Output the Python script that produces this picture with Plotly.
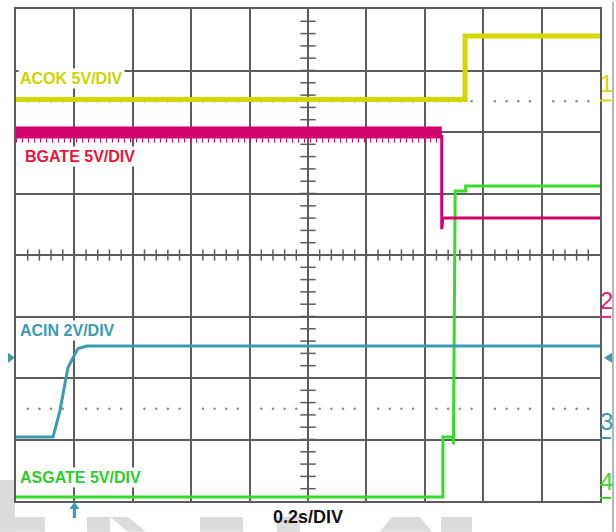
import numpy as np
import plotly.graph_objects as go

# ---------------- data (divisions: x 0..10, y 0..8) ----------------
acok_t = [0.0, 7.69, 7.69, 10.0]
acok_v = [6.53, 6.53, 7.56, 7.56]

bgate_hi_t = [0.0, 7.29]
bgate_hi_v = [5.99, 5.99]
bgate_noise_v = [5.86, 5.86]
bgate_lo_t = [7.29, 7.29, 7.31, 10.0]
bgate_lo_v = [5.95, 4.42, 4.60, 4.60]

acin_t = [0.0, 0.634, 0.753, 0.839, 0.890, 0.976, 1.062, 1.216, 10.0]
acin_v = [1.04, 1.04, 1.47, 1.91, 2.17, 2.33, 2.48, 2.52, 2.52]

asgate_t = [0.0, 7.31, 7.31, 7.49, 7.49, 7.52, 7.70, 7.70, 10.0]
asgate_v = [0.065, 0.065, 1.04, 1.04, 0.92, 5.04, 5.04, 5.12, 5.12]

channel_names = ["ACOK 5V/DIV", "BGATE 5V/DIV", "ACIN 2V/DIV", "ASGATE 5V/DIV"]
channel_ids = ["1", "2", "3", "4"]
channel_levels = [6.53, 3.01, 1.04, 0.065]
cursor_levels = [6.5, 1.5]
trigger_level = 2.33
trigger_time = 1.0
time_label = "0.2s/DIV"

# ---------------- styling ----------------
W, H = 616, 532
L, R, T, B = 16, 16, 7, 31
PW, PH = W - L - R, H - T - B
GRID = "#5c5c5c"
C_ACOK = "#d3d900"
C_ACOK_LBL = "#cdd200"
C_BG = "#d2006b"
C_BG_LBL = "#e8163c"
C_BG_ID = "#e0207a"
C_ACIN = "#3a9bb3"
C_AS = "#36dc28"
C_AS_LBL = "#2ecc2e"
WM = "#dcdcdc"
LBL_FONT = "Liberation Sans, Arial"


def px(x):
    return (x - L) / PW


def py(y):
    return (H - B - y) / PH


def path(points):
    return "M " + " L ".join(f"{px(a):.5f},{py(b):.5f}" for a, b in points) + " Z"


fig = go.Figure()

# graticule centre ticks
minor = np.round(np.arange(0.2, 10.0, 0.2), 3)
fig.add_trace(go.Scatter(x=minor, y=[4] * len(minor), mode="markers", hoverinfo="skip",
                         marker=dict(symbol="line-ns", size=8, line=dict(color=GRID, width=1.5))))
minor_y = np.round(np.arange(0.2, 8.0, 0.2), 3)
fig.add_trace(go.Scatter(x=[5] * len(minor_y), y=minor_y, mode="markers", hoverinfo="skip",
                         marker=dict(symbol="line-ew", size=11, line=dict(color=GRID, width=1.5))))
# dotted cursor lines
dots = [v for v in minor if abs(v - round(v)) > 1e-6]
for lv in cursor_levels:
    fig.add_trace(go.Scatter(x=dots, y=[lv] * len(dots), mode="markers", hoverinfo="skip",
                             marker=dict(symbol="circle", size=2.5, color="#8a8a8a")))

# waveforms
fig.add_trace(go.Scatter(x=asgate_t, y=asgate_v, mode="lines", line=dict(color=C_AS, width=3)))
fig.add_trace(go.Scatter(x=bgate_hi_t, y=bgate_noise_v, mode="lines",
                         line=dict(color=C_BG, width=4, dash="1px,5px")))
fig.add_trace(go.Scatter(x=bgate_hi_t, y=bgate_hi_v, mode="lines", line=dict(color=C_BG, width=12)))
fig.add_trace(go.Scatter(x=bgate_lo_t, y=bgate_lo_v, mode="lines", line=dict(color=C_BG, width=3)))
fig.add_trace(go.Scatter(x=acin_t, y=acin_v, mode="lines", line=dict(color=C_ACIN, width=3)))
fig.add_trace(go.Scatter(x=acok_t, y=acok_v, mode="lines", line=dict(color=C_ACOK, width=5)))

shapes = []
annotations = []

# channel labels (white boxes)
label_pos = [(71, 77, C_ACOK_LBL), (80, 155, C_BG_LBL), (67, 330, C_ACIN), (80, 477, C_AS_LBL)]
for name, (cx, cy, col) in zip(channel_names, label_pos):
    annotations.append(dict(x=px(cx), y=py(cy), xref="paper", yref="paper", text=name,
                            showarrow=False, bgcolor="white", borderpad=1,
                            xanchor="center", yanchor="middle",
                            font=dict(family=LBL_FONT, size=16, color=col, weight="bold")))

# right-side channel ground markers
id_cols = [C_ACOK, C_BG_ID, C_ACIN, C_AS]
for cid, lv, col in zip(channel_ids, channel_levels, id_cols):
    ypix = H - B - lv * PH / 8
    annotations.append(dict(x=px(606), y=py(ypix - 1), xref="paper", yref="paper", text=cid,
                            showarrow=False, xanchor="center", yanchor="bottom", borderpad=0,
                            font=dict(family=LBL_FONT, size=24, color=col)))
    shapes.append(dict(type="line", xref="paper", yref="paper", x0=px(600), x1=px(611),
                       y0=py(ypix + 1), y1=py(ypix + 1), line=dict(color=col, width=2)))

# trigger level markers
tpy = H - B - trigger_level * PH / 8
shapes.append(dict(type="path", xref="paper", yref="paper", fillcolor=C_ACIN, line=dict(width=0),
                   path=path([(8, tpy - 5), (8, tpy + 5), (15, tpy)])))
shapes.append(dict(type="path", xref="paper", yref="paper", fillcolor=C_ACIN, line=dict(width=0),
                   path=path([(612, tpy - 5), (612, tpy + 5), (604, tpy)])))
# trigger time arrow
tpx = L + trigger_time * PW / 10
shapes.append(dict(type="path", xref="paper", yref="paper", fillcolor=C_ACIN, line=dict(width=0),
                   path=path([(tpx - 5, 509), (tpx + 5, 509), (tpx, 502)])))
shapes.append(dict(type="rect", xref="paper", yref="paper", fillcolor=C_ACIN, line=dict(width=0),
                   x0=px(tpx - 1.6), x1=px(tpx + 1.6), y0=py(508), y1=py(518)))

# right border line of screenshot
shapes.append(dict(type="line", xref="paper", yref="paper", x0=px(613), x1=px(613),
                   y0=py(0), y1=py(532), line=dict(color="#a0a0a0", width=1.5)))

# watermark blocks
wm_polys = [
    [(0, 480), (15, 480), (15, 532), (0, 532)],
    [(0, 517), (45, 517), (45, 532), (0, 532)],
    [(87, 517), (110, 517), (110, 532), (87, 532)],
    [(110, 517), (128, 517), (146, 532), (128, 532)],
    [(200, 517), (243, 517), (243, 532), (200, 532)],
    [(277, 517), (300, 517), (300, 532), (277, 532)],
    [(380, 532), (392, 517), (420, 517), (432, 532)],
    [(441, 517), (472, 517), (472, 532), (441, 532)],
]
for poly in wm_polys:
    shapes.append(dict(type="path", xref="paper", yref="paper", fillcolor=WM, line=dict(width=0),
                       layer="below", path=path(poly)))

annotations.append(dict(x=px(308), y=py(517), xref="paper", yref="paper", text=time_label,
                        showarrow=False, xanchor="center", yanchor="middle",
                        font=dict(family="Liberation Sans, Arial", size=18,
                                  color="#111111", weight="bold")))

axis_common = dict(showgrid=True, gridcolor=GRID, gridwidth=1.5, dtick=1, zeroline=False,
                   showticklabels=False, ticks="", showline=True, linecolor=GRID, linewidth=1.5,
                   mirror=True, fixedrange=True)
fig.update_layout(
    width=W, height=H, margin=dict(l=L, r=R, t=T, b=B),
    paper_bgcolor="white", plot_bgcolor="white", showlegend=False,
    xaxis=dict(range=[0, 10], tick0=0, **axis_common),
    yaxis=dict(range=[0, 8], tick0=0, **axis_common),
    shapes=shapes, annotations=annotations,
)
fig.write_html("out.html", config={"displayModeBar": False},
               post_script="document.body.style.margin='0';document.body.style.overflow='hidden';")
